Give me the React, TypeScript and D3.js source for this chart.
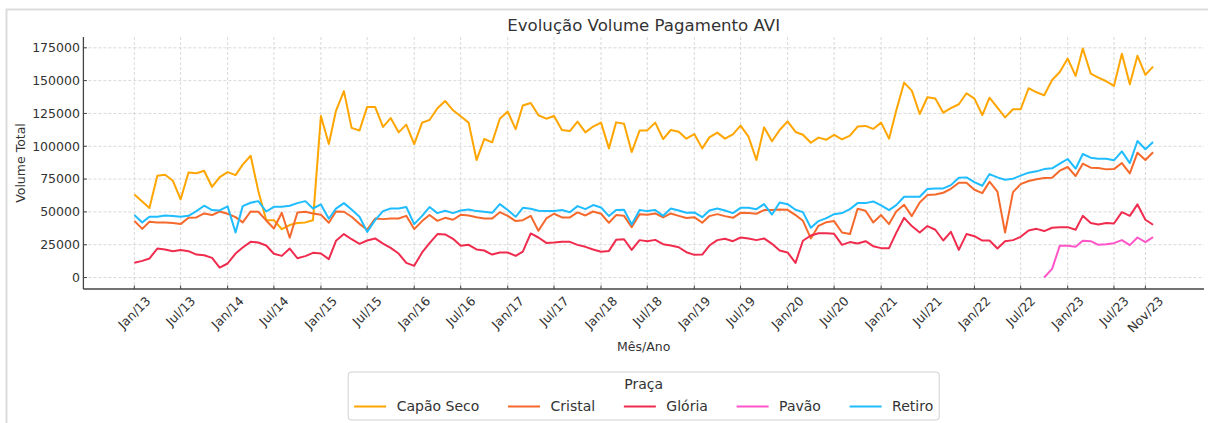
import React, { useEffect, useRef } from 'react';
import * as d3 from 'd3';

const W = 1208;
const H = 423;

// monthly points, Jan/13 .. Dec/23
const months = d3.timeMonth.range(new Date(2013, 0, 1), new Date(2024, 0, 1));

const capaoSeco = [
  63300, 58000, 53000, 77500, 78300, 73700, 59500, 80000, 79500, 81300, 69000, 76500,
  80300, 78000, 86000, 92800, 66000, 43700, 43700, 36800, 40000, 41500, 42000, 43700,
  123000, 101700, 127000, 142000, 114000, 112000, 130000, 130000, 114700, 121500, 110600, 116500,
  101700, 118000, 120000, 129000, 134500, 127400, 122800, 118000, 89500, 105500, 103000, 121000,
  126400, 113000, 131000, 133000, 123600, 121000, 123000, 112400, 111600, 118800, 110600, 115000,
  118000, 98400, 118200, 117200, 95600, 112000, 112100, 118000, 105500, 112400, 111100, 105800,
  109300, 98400, 106800, 110400, 105800, 109100, 115700, 107300, 89500, 114400, 103800, 112400,
  119000, 110900, 108800, 102700, 106600, 105000, 108600, 105300, 108100, 115000, 115500, 113200,
  118000, 105800, 127000, 148500, 142400, 124600, 137300, 136300, 125600, 129000, 132000, 140400,
  136300, 123800, 137000, 129400, 122000, 128200, 128200, 144200, 141100, 138800, 150500, 156600,
  166800, 153600, 174500, 155400, 152300, 149500, 146000, 170400, 147200, 168900, 154400, 160700,
];

const cristal = [
  43200, 37100, 42500, 42000, 42000, 41500, 40700, 45500, 45800, 48800, 47600, 50300,
  48600, 46000, 42000, 50300, 50100, 43500, 37400, 49300, 30300, 49600, 50100, 48800,
  47800, 41700, 50300, 50100, 46300, 40900, 36400, 45000, 44500, 45000, 45000, 47000,
  36900, 43000, 47600, 43200, 45500, 44000, 47800, 47300, 46000, 45000, 45000, 49800,
  47000, 43000, 43700, 47000, 35600, 45000, 48600, 45800, 45800, 49600, 47300, 50300,
  48600, 41700, 47600, 47000, 38400, 48300, 47800, 48800, 45800, 48800, 47000, 45300,
  46000, 41700, 46800, 48300, 46800, 45500, 49300, 49100, 48600, 51400, 51400, 51900,
  51600, 47600, 43200, 29800, 39400, 42200, 43000, 34300, 33100, 52400, 50900, 42000,
  47600, 40700, 50300, 55400, 46800, 57200, 62800, 63300, 64600, 67600, 72200, 72200,
  66900, 64300, 73000, 65400, 34300, 65100, 71200, 73500, 74800, 75800, 76000, 81400,
  84200, 77300, 86700, 83700, 83400, 82400, 82600, 87200, 79300, 95100, 89500, 95400,
];

const gloria = [
  11200, 12700, 14500, 22100, 21400, 20100, 20900, 20100, 17500, 17000, 15000, 7600,
  10700, 18300, 22900, 27200, 26700, 24400, 18100, 16500, 22100, 14700, 16300, 18800,
  18300, 14000, 28000, 33100, 29200, 25700, 28200, 29800, 25900, 22600, 18300, 11200,
  8900, 19100, 26200, 33100, 32800, 29500, 24200, 24900, 21400, 20600, 17500, 19100,
  19100, 16500, 19800, 33600, 30500, 26400, 26700, 27200, 27200, 24900, 23400, 21400,
  19600, 20300, 28700, 29200, 21100, 28500, 27700, 28700, 25400, 24400, 23100, 19300,
  17300, 17500, 24400, 28500, 29500, 27700, 30500, 29800, 28500, 29800, 25700, 20600,
  19100, 11200, 28000, 32000, 33800, 33800, 33300, 24900, 27000, 25900, 27700, 23900,
  22400, 22400, 34000, 45500, 39200, 34300, 39200, 36400, 28200, 34800, 21100, 33100,
  31500, 28200, 28200, 22100, 27700, 28500, 31000, 35900, 37100, 35400, 37900, 38400,
  38400, 36400, 47000, 41500, 40400, 41500, 41200, 49800, 47000, 55700, 44000, 40200,
];

// Pavão only starts reporting in Oct/22
const pavao: (number | null)[] = [
  ...new Array(117).fill(null),
  0, 6600, 24200,
  24200, 23400, 28000, 27700, 24900, 25400, 26200, 28500, 24700, 30500, 27000, 30800,
];

const retiro = [
  47600, 42000, 46300, 46300, 47300, 46800, 46300, 47000, 50600, 54700, 51400, 51100,
  54200, 34300, 54400, 57000, 58200, 50300, 53900, 53900, 54700, 56700, 58200, 52600,
  55700, 44800, 52500, 56700, 51900, 46300, 34800, 43700, 50600, 52600, 52600, 53700,
  40700, 47000, 53700, 49100, 50900, 49100, 51100, 51900, 50600, 50100, 49300, 55900,
  51400, 46300, 53100, 52400, 50900, 50600, 50600, 51400, 49800, 54400, 52100, 55200,
  53400, 46800, 51400, 51600, 40400, 51400, 50600, 51400, 47000, 52600, 51100, 49300,
  49600, 46000, 51100, 52600, 51100, 49100, 53100, 53100, 52100, 55900, 48000, 57200,
  55900, 51600, 49800, 37900, 43000, 45300, 48300, 49100, 52100, 56700, 56700, 58000,
  54900, 51400, 55200, 61500, 61500, 61500, 67400, 67900, 67900, 70400, 76000, 76300,
  72700, 69900, 78800, 76300, 74500, 75300, 77600, 79900, 80900, 82600, 83200, 86700,
  90300, 82900, 94100, 91300, 90500, 90500, 89300, 96100, 87200, 104000, 97700, 103200,
];

const seriesNames = ['Capão Seco', 'Cristal', 'Glória', 'Pavão', 'Retiro'];
const seriesColors = ['#ffa500', '#f5692c', '#f02c4e', '#ff55c8', '#1fbcff'];
const seriesValues: (number | null)[][] = [capaoSeco, cristal, gloria, pavao, retiro];

const xTickLabels = [
  'Jan/13', 'Jul/13', 'Jan/14', 'Jul/14', 'Jan/15', 'Jul/15', 'Jan/16', 'Jul/16',
  'Jan/17', 'Jul/17', 'Jan/18', 'Jul/18', 'Jan/19', 'Jul/19', 'Jan/20', 'Jul/20',
  'Jan/21', 'Jul/21', 'Jan/22', 'Jul/22', 'Jan/23', 'Jul/23', 'Nov/23',
];
const yTicks = [0, 25000, 50000, 75000, 100000, 125000, 150000, 175000];

const FONT = 'DejaVu Sans, Verdana, sans-serif';

const App: React.FC = () => {
  const svgRef = useRef<SVGSVGElement>(null);

  useEffect(() => {
    if (!svgRef.current) return;
    const svg = d3.select(svgRef.current);
    svg.selectAll('*').remove();

    const left = 83.4, right = 1204, top = 37, bottom = 289;
    const cx = (left + right) / 2;

    // figure frame
    svg.append('rect')
      .attr('x', 6.5).attr('y', 9.5)
      .attr('width', 1230).attr('height', 440)
      .attr('fill', 'none')
      .attr('stroke', '#dcdcdc')
      .attr('stroke-width', 2);

    // scales with 5% margins like matplotlib
    const t0 = months[0].getTime();
    const t1 = months[months.length - 1].getTime();
    const tPad = (t1 - t0) * 0.05;
    const x = d3.scaleTime()
      .domain([new Date(t0 - tPad), new Date(t1 + tPad)])
      .range([left, right]);

    const all = seriesValues.flat().filter((v): v is number => v != null);
    const yMin = d3.min(all) as number;
    const yMax = d3.max(all) as number;
    const yPad = (yMax - yMin) * 0.05;
    const y = d3.scaleLinear()
      .domain([yMin - yPad, yMax + yPad])
      .range([bottom, top]);

    const parseTick = d3.timeParse('%b/%y');
    const xTicks = xTickLabels.map(l => ({ label: l, date: parseTick(l) as Date }));

    // grid
    const grid = svg.append('g');
    grid.selectAll('line.gx')
      .data(xTicks)
      .enter()
      .append('line')
      .attr('x1', d => x(d.date)).attr('x2', d => x(d.date))
      .attr('y1', top).attr('y2', bottom)
      .attr('stroke', '#cfcfcf')
      .attr('stroke-width', 0.8)
      .attr('stroke-dasharray', '3,2');
    grid.selectAll('line.gy')
      .data(yTicks)
      .enter()
      .append('line')
      .attr('x1', left).attr('x2', right)
      .attr('y1', d => y(d)).attr('y2', d => y(d))
      .attr('stroke', '#cfcfcf')
      .attr('stroke-width', 0.8)
      .attr('stroke-dasharray', '3,2');

    // lines
    const line = d3.line<number | null>()
      .defined(d => d != null)
      .x((_, i) => x(months[i]))
      .y(d => y(d as number));

    seriesValues.forEach((vals, i) => {
      svg.append('path')
        .datum(vals)
        .attr('fill', 'none')
        .attr('stroke', seriesColors[i])
        .attr('stroke-width', 2)
        .attr('stroke-linejoin', 'round')
        .attr('d', line);
    });

    // spines
    svg.append('line')
      .attr('x1', left).attr('x2', left)
      .attr('y1', top).attr('y2', bottom)
      .attr('stroke', '#444').attr('stroke-width', 1.3);
    svg.append('line')
      .attr('x1', left).attr('x2', right)
      .attr('y1', bottom).attr('y2', bottom)
      .attr('stroke', '#444').attr('stroke-width', 1.3);

    // y ticks (inside)
    yTicks.forEach(v => {
      svg.append('line')
        .attr('x1', left).attr('x2', left + 3.5)
        .attr('y1', y(v)).attr('y2', y(v))
        .attr('stroke', '#444').attr('stroke-width', 1);
      svg.append('text')
        .attr('x', left - 3.5)
        .attr('y', y(v))
        .attr('dy', '0.35em')
        .attr('text-anchor', 'end')
        .attr('font-family', FONT)
        .attr('font-size', 12.5)
        .attr('fill', '#333')
        .text(v);
    });

    // x ticks (inside) + rotated labels
    xTicks.forEach(t => {
      const tx = x(t.date);
      svg.append('line')
        .attr('x1', tx).attr('x2', tx)
        .attr('y1', bottom).attr('y2', bottom - 3.5)
        .attr('stroke', '#444').attr('stroke-width', 1);
      const txt = svg.append('text')
        .attr('text-anchor', 'middle')
        .attr('dy', '0.35em')
        .attr('font-family', FONT)
        .attr('font-size', 12.5)
        .attr('fill', '#333')
        .text(t.label);
      const w = (txt.node() as SVGTextElement).getComputedTextLength();
      const cy = 295.5 + (w + 9) / 2.828;
      txt.attr('transform', `translate(${tx},${cy}) rotate(-45)`);
    });

    // titles
    svg.append('text')
      .attr('x', cx).attr('y', 31)
      .attr('text-anchor', 'middle')
      .attr('font-family', FONT)
      .attr('font-size', 16.6)
      .attr('fill', '#333')
      .text('Evolução Volume Pagamento AVI');

    svg.append('text')
      .attr('x', cx).attr('y', 351)
      .attr('text-anchor', 'middle')
      .attr('font-family', FONT)
      .attr('font-size', 12.5)
      .attr('fill', '#333')
      .text('Mês/Ano');

    svg.append('text')
      .attr('transform', `translate(24.5,${(top + bottom) / 2}) rotate(-90)`)
      .attr('text-anchor', 'middle')
      .attr('font-family', FONT)
      .attr('font-size', 12.5)
      .attr('fill', '#333')
      .text('Volume Total');

    // legend
    const legend = svg.append('g');
    const frame = legend.append('rect');
    const handleLen = 32, handlePad = 10.5, colSpace = 28.7;
    const items = seriesNames.map((name, i) => {
      const t = legend.append('text')
        .attr('font-family', FONT)
        .attr('font-size', 14)
        .attr('fill', '#333')
        .attr('y', 411)
        .text(name);
      const w = (t.node() as SVGTextElement).getComputedTextLength();
      return { t, w, color: seriesColors[i] };
    });
    const total = d3.sum(items, d => handleLen + handlePad + d.w) + colSpace * (items.length - 1);
    let pos = cx - total / 2;
    items.forEach(it => {
      legend.append('line')
        .attr('x1', pos).attr('x2', pos + handleLen)
        .attr('y1', 406.5).attr('y2', 406.5)
        .attr('stroke', it.color)
        .attr('stroke-width', 2);
      it.t.attr('x', pos + handleLen + handlePad);
      pos += handleLen + handlePad + it.w + colSpace;
    });
    legend.append('text')
      .attr('x', cx).attr('y', 389)
      .attr('text-anchor', 'middle')
      .attr('font-family', FONT)
      .attr('font-size', 14)
      .attr('fill', '#333')
      .text('Praça');
    frame
      .attr('x', cx - total / 2 - 6)
      .attr('y', 372)
      .attr('width', total + 12)
      .attr('height', 48)
      .attr('rx', 3)
      .attr('fill', '#fff')
      .attr('fill-opacity', 0.8)
      .attr('stroke', '#d0d0d0')
      .attr('stroke-width', 1);
  }, []);

  return (
    <svg
      ref={svgRef}
      width={W}
      height={H}
      style={{ position: 'absolute', left: 0, top: 0, background: '#fff' }}
    />
  );
};

export default App;
